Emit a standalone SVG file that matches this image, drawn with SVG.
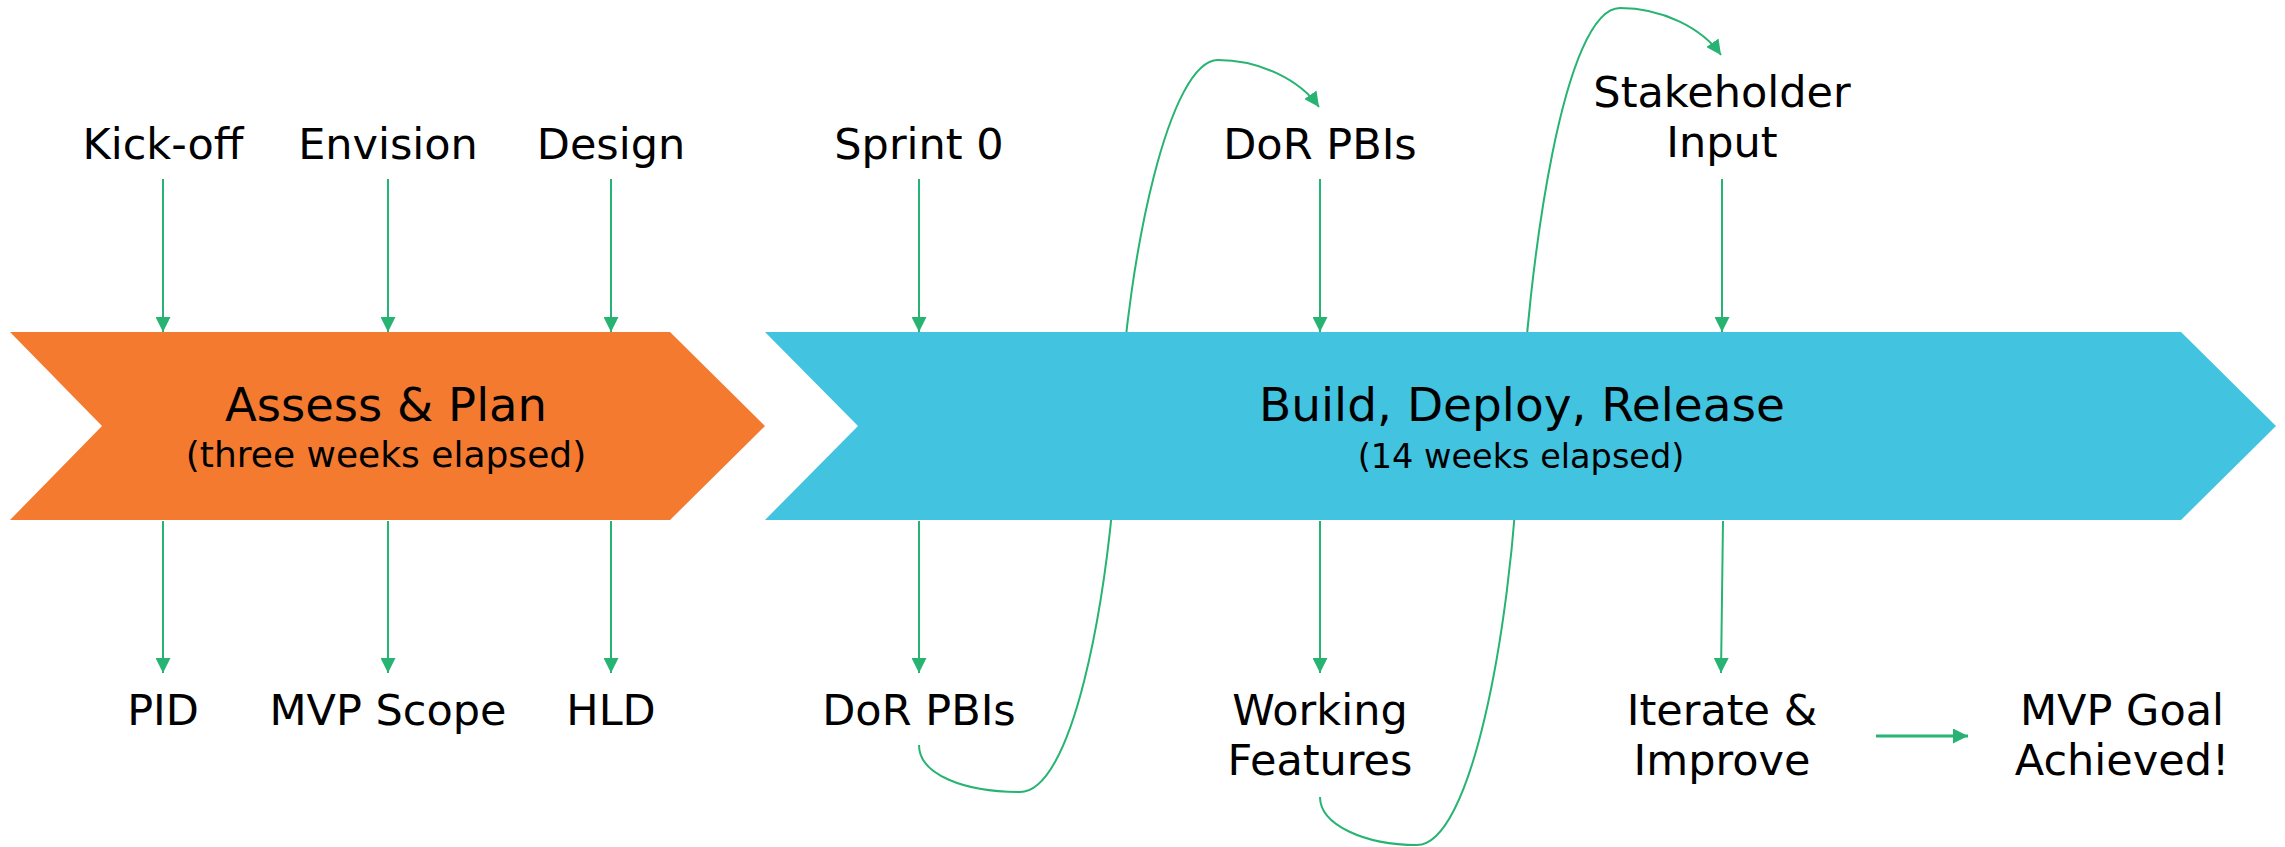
<svg xmlns="http://www.w3.org/2000/svg" width="2285" height="847" viewBox="0 0 2285 847">
<style>
  .lbl { font-family: "DejaVu Sans", "Noto Sans", sans-serif; font-size: 43px; fill: #000; text-anchor: middle; }
  .ttl { font-family: "DejaVu Sans", "Noto Sans", sans-serif; font-size: 46.5px; fill: #000; text-anchor: middle; }
  .sub { font-family: "DejaVu Sans", "Noto Sans", sans-serif; font-size: 34px; fill: #000; text-anchor: middle; }
  .con { fill: none; stroke: #27B473; stroke-width: 2; }
  .thick { stroke-width: 3; }
</style>
<defs>
  <marker id="ah" viewBox="0 0 15 15" refX="15" refY="7.5" markerWidth="15" markerHeight="15" markerUnits="userSpaceOnUse" orient="auto">
    <path d="M0,0 L15,7.5 L0,15 Z" fill="#27B473"/>
  </marker>
</defs>
<rect width="2285" height="847" fill="#fff"/>
<g id="connectors">
  <line class="con" x1="163" y1="179" x2="163" y2="332" marker-end="url(#ah)"/>
  <line class="con" x1="388" y1="179" x2="388" y2="332" marker-end="url(#ah)"/>
  <line class="con" x1="611" y1="179" x2="611" y2="332" marker-end="url(#ah)"/>
  <line class="con" x1="919" y1="179" x2="919" y2="332" marker-end="url(#ah)"/>
  <line class="con" x1="1320" y1="179" x2="1320" y2="332" marker-end="url(#ah)"/>
  <line class="con" x1="1722" y1="179" x2="1722" y2="332" marker-end="url(#ah)"/>
  <line class="con" x1="163" y1="521" x2="163" y2="673" marker-end="url(#ah)"/>
  <line class="con" x1="388" y1="521" x2="388" y2="673" marker-end="url(#ah)"/>
  <line class="con" x1="611" y1="521" x2="611" y2="673" marker-end="url(#ah)"/>
  <line class="con" x1="919" y1="521" x2="919" y2="673" marker-end="url(#ah)"/>
  <line class="con" x1="1320" y1="521" x2="1320" y2="673" marker-end="url(#ah)"/>
  <line class="con" x1="1723" y1="521" x2="1721" y2="673" marker-end="url(#ah)"/>
  <line class="con thick" x1="1876" y1="736" x2="1968" y2="736" marker-end="url(#ah)"/>
  <path class="con" d="M919,745 C919,775 965,792 1020,792 C1070,792 1108,620 1119,420 C1128,250 1170,60 1218,60 C1260,60 1300,80 1319,107" marker-end="url(#ah)"/>
  <path class="con" d="M1320,797 C1320,825 1365,845 1417,845 C1470,845 1510,640 1519,450 C1528,250 1565,8 1620,8 C1662,8 1702,28 1721,55" marker-end="url(#ah)"/>
</g>
<g id="assess-plan">
  <path d="M10,332 L670,332 L765,426 L670,520 L10,520 L102,426 Z" fill="#F47A30"/>
  <text class="ttl" x="386" y="421">Assess &amp; Plan</text>
  <text class="sub" x="386" y="467" style="font-size:36px">(three weeks elapsed)</text>
</g>
<g id="build-deploy-release">
  <path d="M765,332 L2181,332 L2276,426 L2181,520 L765,520 L858,426 Z" fill="#42C3E0"/>
  <text class="ttl" x="1522" y="421" style="font-size:47px">Build, Deploy, Release</text>
  <text class="sub" x="1521" y="468" style="font-size:33.5px">(14 weeks elapsed)</text>
</g>
<g id="kick-off"><text class="lbl" x="163" y="159">Kick-off</text></g>
<g id="envision"><text class="lbl" x="388" y="159">Envision</text></g>
<g id="design"><text class="lbl" x="611" y="159">Design</text></g>
<g id="sprint-0"><text class="lbl" x="919" y="159">Sprint 0</text></g>
<g id="dor-pbis-top"><text class="lbl" x="1320" y="159">DoR PBIs</text></g>
<g id="stakeholder-input"><text class="lbl" x="1722" y="107">Stakeholder</text><text class="lbl" x="1722" y="157">Input</text></g>
<g id="pid"><text class="lbl" x="163" y="725">PID</text></g>
<g id="mvp-scope"><text class="lbl" x="388" y="725">MVP Scope</text></g>
<g id="hld"><text class="lbl" x="611" y="725">HLD</text></g>
<g id="dor-pbis-bottom"><text class="lbl" x="919" y="725">DoR PBIs</text></g>
<g id="working-features"><text class="lbl" x="1320" y="725">Working</text><text class="lbl" x="1320" y="775">Features</text></g>
<g id="iterate-improve"><text class="lbl" x="1722" y="725">Iterate &amp;</text><text class="lbl" x="1722" y="775">Improve</text></g>
<g id="mvp-goal"><text class="lbl" x="2122" y="725">MVP Goal</text><text class="lbl" x="2122" y="775">Achieved!</text></g>
</svg>
